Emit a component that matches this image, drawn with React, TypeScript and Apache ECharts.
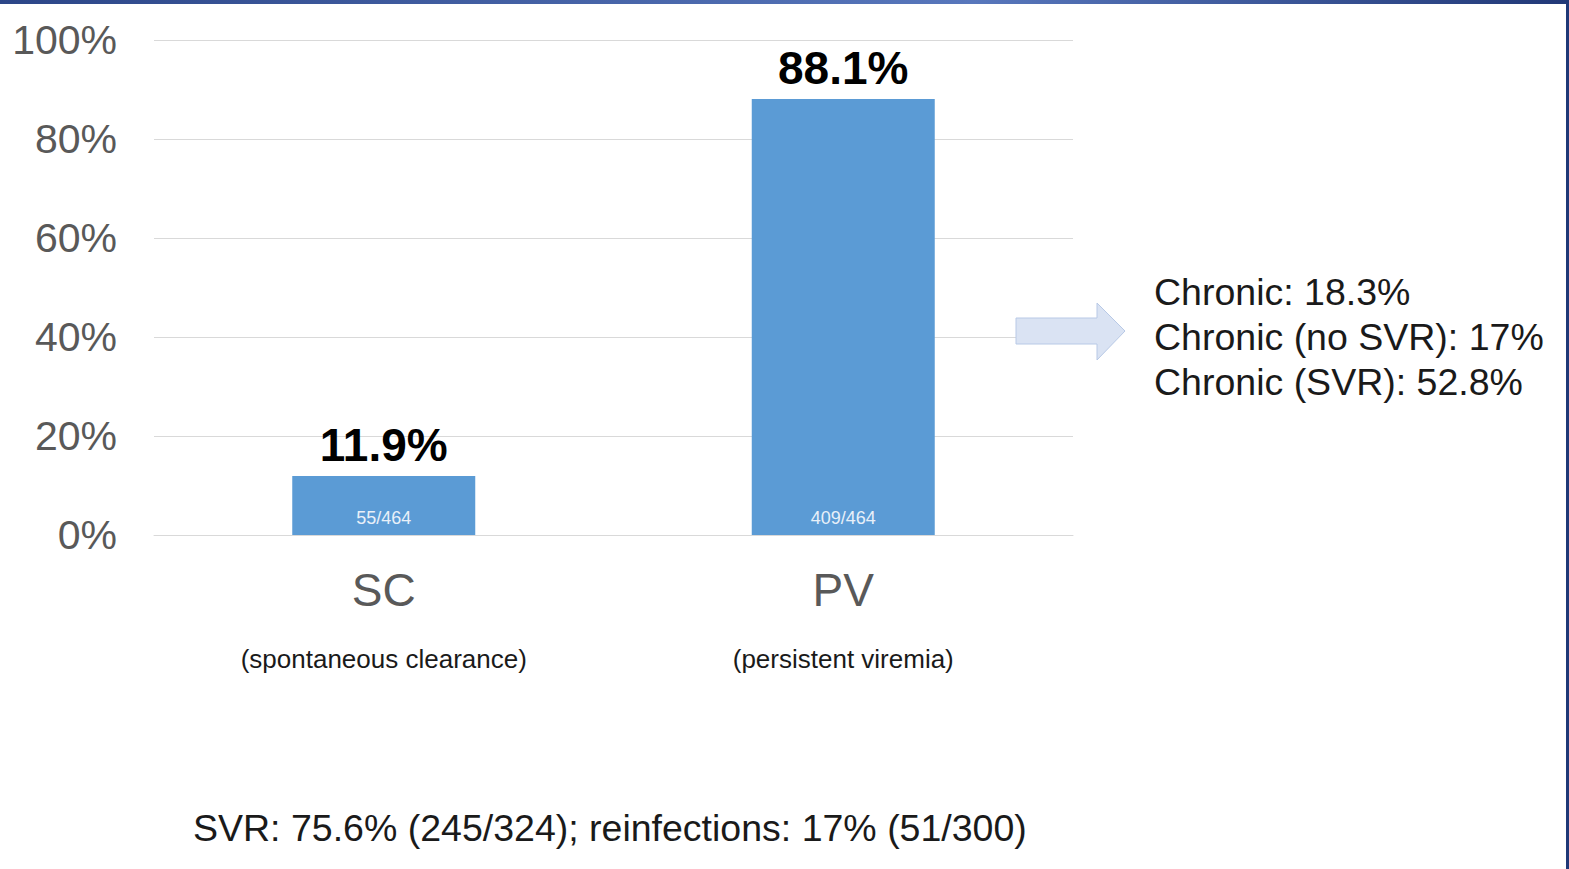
import React, { useEffect, useRef } from "react";
import * as echarts from "echarts";

// Outcome groups and their shares of the cohort
const categories = ["SC", "PV"];
const categoryNotes = ["(spontaneous clearance)", "(persistent viremia)"];
const shares = [11.9, 88.1];
const counts = [55, 409];
const cohortSize = 464;

// Value axis ticks (percent)
const yTicks = [0, 20, 40, 60, 80, 100];

// Side notes for the persistent-viremia group
const chronicNotes = ["Chronic: 18.3%", "Chronic (no SVR): 17%", "Chronic (SVR): 52.8%"];
const footerNote = "SVR: 75.6% (245/324); reinfections: 17% (51/300)";

const FONT = "'Liberation Sans', Arial, Helvetica, sans-serif";

export default function App() {
  const ref = useRef<HTMLDivElement>(null);

  useEffect(() => {
    if (!ref.current) return;
    const chart = echarts.init(ref.current, undefined, { renderer: "svg" });

    const option: echarts.EChartsCoreOption = {
      animation: false,
      backgroundColor: "#ffffff",
      textStyle: { fontFamily: FONT },
      grid: { left: 154, right: 496, top: 40, bottom: 334, containLabel: false },
      xAxis: {
        type: "category",
        data: categories,
        axisLine: { show: true, lineStyle: { color: "#d9d9d9", width: 1 } },
        axisTick: { show: false },
        axisLabel: {
          margin: 25,
          interval: 0,
          formatter: (v: string) => {
            const i = categories.indexOf(v);
            return `{a|${v}}\n{b|${categoryNotes[i]}}`;
          },
          rich: {
            a: { fontSize: 46, color: "#595959", fontFamily: FONT, lineHeight: 60 },
            b: { fontSize: 26, color: "#1a1a1a", fontFamily: FONT, lineHeight: 78 },
          },
        },
      },
      yAxis: {
        type: "value",
        min: yTicks[0],
        max: yTicks[yTicks.length - 1],
        interval: 20,
        axisLine: { show: false },
        axisTick: { show: false },
        axisLabel: {
          margin: 37,
          fontSize: 41,
          color: "#595959",
          fontFamily: FONT,
          formatter: "{value}%",
        },
        splitLine: { show: true, lineStyle: { color: "#d9d9d9", width: 1 } },
      },
      series: [
        {
          type: "bar",
          data: shares,
          barWidth: 183,
          barGap: "-100%",
          itemStyle: { color: "#5b9bd5" },
          label: {
            show: true,
            position: "top",
            distance: 8,
            fontSize: 46,
            fontWeight: "bold",
            color: "#000000",
            fontFamily: FONT,
            formatter: (p: any) => `${p.value}%`,
          },
          z: 2,
        },
        {
          type: "bar",
          data: shares,
          barWidth: 183,
          barGap: "-100%",
          itemStyle: { color: "rgba(0,0,0,0)" },
          label: {
            show: true,
            position: "insideBottom",
            distance: 8,
            fontSize: 18,
            color: "#e8f0f9",
            fontFamily: FONT,
            formatter: (p: any) => `${counts[p.dataIndex]}/${cohortSize}`,
          },
          z: 3,
        },
      ],
      graphic: [
        // header band
        {
          type: "rect",
          left: 0,
          top: 0,
          shape: { width: 1569, height: 4 },
          style: {
            fill: new echarts.graphic.LinearGradient(0, 0, 1, 0, [
              { offset: 0, color: "#2c4688" },
              { offset: 0.62, color: "#5877bc" },
              { offset: 1, color: "#213877" },
            ]),
          },
          z: 10,
        },
        // right edge band
        {
          type: "rect",
          left: 1566,
          top: 0,
          shape: { width: 3, height: 869 },
          style: { fill: "#1f3877" },
          z: 10,
        },
        // arrow pointing to the chronic outcome notes
        {
          type: "polygon",
          shape: {
            points: [
              [1016, 318],
              [1097, 318],
              [1097, 303],
              [1125, 331],
              [1097, 360],
              [1097, 344],
              [1016, 344],
            ],
          },
          style: { fill: "#dae3f3", stroke: "#b8c9e6", lineWidth: 1 },
          z: 10,
        },
        ...chronicNotes.map((t, i) => ({
          type: "text",
          x: 1154,
          y: 292 + i * 45,
          style: {
            text: t,
            fontSize: 37.5,
            fontFamily: FONT,
            fill: "#1a1a1a",
            verticalAlign: "middle",
          },
          z: 10,
        })),
        {
          type: "text",
          x: 193,
          y: 828,
          style: {
            text: footerNote,
            fontSize: 37.5,
            fontFamily: FONT,
            fill: "#1a1a1a",
            verticalAlign: "middle",
          },
          z: 10,
        },
      ],
    };

    chart.setOption(option);
    return () => chart.dispose();
  }, []);

  return (
    <div
      ref={ref}
      style={{ position: "fixed", left: 0, top: 0, width: 1569, height: 869, background: "#fff" }}
    />
  );
}
